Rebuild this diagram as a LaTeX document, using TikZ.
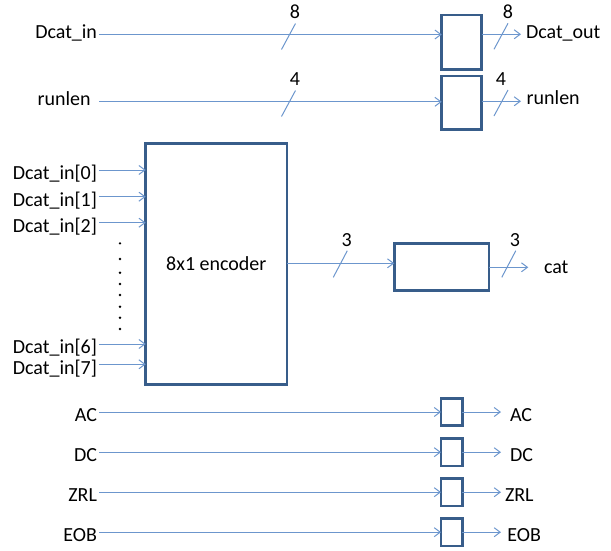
\documentclass[tikz,border=0pt]{standalone}
\usepackage{fontspec}
\setmainfont{Carlito}
\usetikzlibrary{arrows.meta}
\definecolor{wireblue}{RGB}{108,150,205}
\definecolor{boxblue}{RGB}{56,93,138}
\begin{document}
\begin{tikzpicture}[x=1pt,y=-1pt,
  font=\fontsize{20}{24}\selectfont,
  wire/.style={draw=wireblue,line width=1pt},
  sig/.style={wire,-{Straight Barb[length=6pt,width=9pt]}},
  reg/.style={draw=boxblue,line width=2.5pt,fill=white,inner sep=0pt,outer sep=0pt},
  lbl/.style={inner xsep=2.3pt,inner ysep=0pt,outer sep=0pt},
  num/.style={inner sep=0pt,outer sep=0pt,anchor=base}]
\useasboundingbox (0,0) rectangle (611,550);

% output registers
\node[reg,minimum width=40pt,minimum height=54.3pt] (rd) at (461.7,42.2) {};
\node[reg,minimum width=40pt,minimum height=53.3pt] (rr) at (461.7,102.7) {};
\node[reg,minimum width=94.7pt,minimum height=47.4pt] (rc) at (441.7,267) {};
% encoder
\node[reg,minimum width=141.3pt,minimum height=241.4pt] (enc) at (216.3,264) {8x1 encoder};

% Dcat_in -> Dcat_out (8 bits)
\node[lbl,anchor=base east] (lDin) at (99.3,38.3) {Dcat\_in};
\coordinate (rdi) at (441.7,34.5);
\draw[sig] (lDin.east |- rdi) -- (rdi);
\coordinate (rdo) at (521,34.3);
\draw[sig] (rd.east |- rdo) -- (rdo);
\node[lbl,anchor=base west,inner xsep=0pt] (lDout) at (526,38.3) {Dcat\_out};
\coordinate (m1) at (288.5,36.5);
\coordinate (m2) at (501,36.3);
\draw[wire] ([shift={(-7,13)}]m1) -- ([shift={(7,-13)}]m1);
\draw[wire] ([shift={(-7,13)}]m2) -- ([shift={(7,-13)}]m2);
\node[num] (n1) at (295,18.3) {8};
\node[num] (n2) at (508,18.3) {8};

% runlen -> runlen (4 bits)
\node[lbl,anchor=base east,inner xsep=8.6pt] (lRin) at (99.3,105) {runlen};
\coordinate (rri) at (441.7,101.8);
\draw[sig] (lRin.east |- rri) -- (rri);
\coordinate (rro) at (521,101.3);
\draw[sig] (rr.east |- rro) -- (rro);
\node[lbl,anchor=base west,inner xsep=0pt] (lRout) at (526.7,104.5) {runlen};
\coordinate (m3) at (288.5,103.5);
\coordinate (m4) at (501,103);
\draw[wire] ([shift={(-7,13)}]m3) -- ([shift={(7,-13)}]m3);
\draw[wire] ([shift={(-7,13)}]m4) -- ([shift={(7,-13)}]m4);
\node[num] (n3) at (295,85) {4};
\node[num] (n4) at (501,85) {4};

% encoder inputs
\foreach \i/\y in {0/170, 1/196.7, 2/222.7, 6/344, 7/364.3} {
  \node[lbl,anchor=base east] (in\i) at (99.3,\y+9.7) {Dcat\_in[\i]};
  \coordinate (e\i) at (145.7,\y);
  \draw[sig] (in\i.east |- e\i) -- (e\i);
}
% elided inputs
\foreach \y in {243.3, 259, 272.7, 284, 295, 306.7, 317.7, 329}
  \fill (120,\y) circle (1.3pt);

% encoder -> cat (3 bits)
\coordinate (rci) at (394.3,263.3);
\draw[sig] (enc.east |- rci) -- (rci);
\coordinate (rco) at (528.3,267.3);
\draw[sig] (rc.east |- rco) -- (rco);
\node[lbl,anchor=base west,inner xsep=0pt] (lcat) at (544,273.3) {cat};
\coordinate (m5) at (340.3,264);
\coordinate (m6) at (508.8,264);
\draw[wire] ([shift={(-7,13.3)}]m5) -- ([shift={(7,-13.3)}]m5);
\draw[wire] ([shift={(-7,13.3)}]m6) -- ([shift={(7,-13.3)}]m6);
\node[num] (n5) at (346.7,246) {3};
\node[num] (n6) at (515,246) {3};

% single-bit flags
\foreach \n/\y/\xo in {AC/412/510, DC/452.2/510, ZRL/492.2/505, EOB/532.2/507.3} {
  \node[reg,minimum width=21.3pt,minimum height=27.4pt] (f\n) at (451.7,\y) {};
  \node[lbl,anchor=base east] (l\n) at (99.3,\y+9.3) {\n};
  \draw[sig] (l\n.east |- f\n.west) -- (f\n.west);
  \coordinate (o\n) at (501,\y);
  \draw[sig] (f\n.east) -- (o\n);
  \node[lbl,anchor=base west,inner xsep=0pt] (r\n) at (\xo,\y+9.3) {\n};
}
\end{tikzpicture}
\end{document}
